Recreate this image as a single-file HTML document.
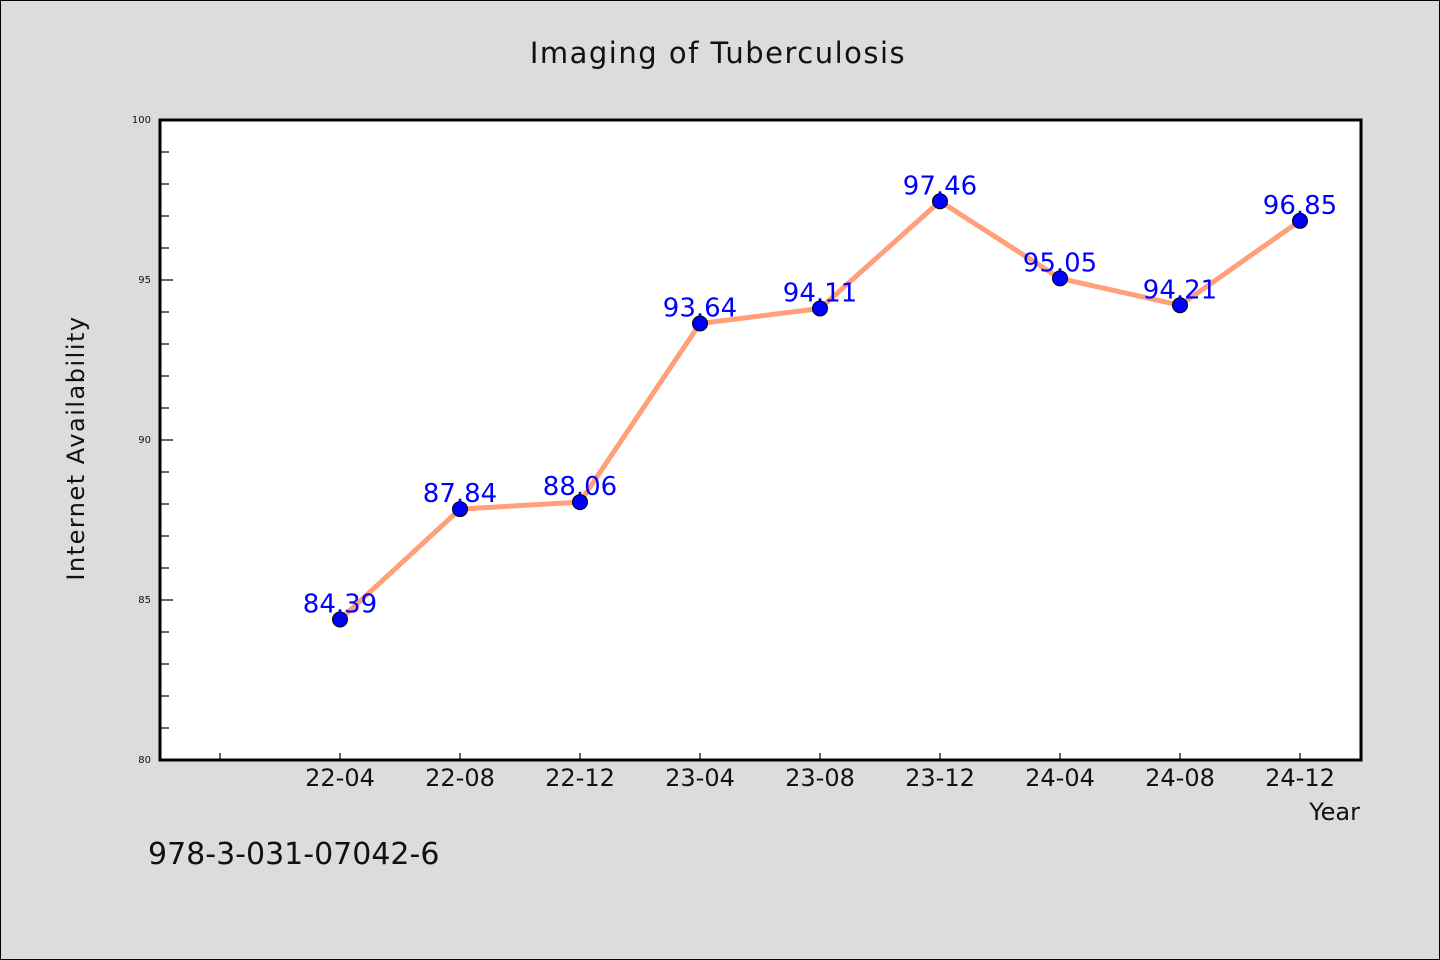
<!DOCTYPE html>
<html><head><meta charset="utf-8"><style>
html,body{margin:0;padding:0;background:#dcdcdc;}
svg{display:block;font-family:"WenQuanYi Zen Hei","DejaVu Sans",sans-serif;}
</style></head><body>
<svg id="chart" width="1440" height="960" xmlns="http://www.w3.org/2000/svg">
<rect x="0.5" y="0.5" width="1439" height="959" fill="#dcdcdc" stroke="#000" stroke-width="1"/>
<text x="718" y="63" font-size="29" text-anchor="middle" fill="#111" letter-spacing="1.5">Imaging of Tuberculosis</text>
<rect x="160" y="120" width="1201" height="640" fill="#fff"/>
<g id="axes"></g>
<g id="series"></g>
<rect x="160" y="120" width="1201" height="640" fill="none" stroke="#000" stroke-width="3"/>
<text transform="translate(84,448) rotate(-90)" font-size="24" text-anchor="middle" fill="#111" letter-spacing="1.5">Internet Availability</text>
<text x="1360" y="820" font-size="24" text-anchor="end" fill="#111">Year</text>
<text x="148" y="864" font-size="30" fill="#111">978-3-031-07042-6</text>
</svg>
<script>
const categories = ["22-04","22-08","22-12","23-04","23-08","23-12","24-04","24-08","24-12"];
const values = [84.39,87.84,88.06,93.64,94.11,97.46,95.05,94.21,96.85];
const valueLabels = ["84.39","87.84","88.06","93.64","94.11","97.46","95.05","94.21","96.85"];
const yTicks = [80,85,90,95,100];
const yMin = 80, yMax = 100;
const NS = "http://www.w3.org/2000/svg";
function xPos(i){ return 340 + i*120; }
function yPos(v){ return 760 - (v - yMin)/(yMax - yMin)*640; }
function mk(tag, attrs, parent){ const e=document.createElementNS(NS,tag); for(const k in attrs) e.setAttribute(k,attrs[k]); parent.appendChild(e); return e; }
const axes=document.getElementById('axes'), series=document.getElementById('series');
for(let v=yMin; v<=yMax; v++){
  const major = yTicks.includes(v);
  const t=mk('line',{x1:160,x2:major?173:169,y1:yPos(v),y2:yPos(v),stroke:'#000','stroke-width':1.2},axes);
  
  
}
yTicks.forEach(v=>{
  const t=mk('text',{x:151,y:yPos(v)+3,'font-size':10,'text-anchor':'end',fill:'#111'},axes);
  t.textContent=v;
  
  
});
const tk=mk('line',{x1:xPos(-1),x2:xPos(-1),y1:753,y2:760,stroke:'#000','stroke-width':1.2},axes);


categories.forEach((c,i)=>{
  const t=mk('line',{x1:xPos(i),x2:xPos(i),y1:753,y2:760,stroke:'#000','stroke-width':1.2},axes);
  
  
  const l=mk('text',{x:xPos(i),y:786,'font-size':24,'text-anchor':'middle',fill:'#111'},axes);
  l.textContent=c;
  
  
});
const line=mk('polyline',{points:values.map((v,i)=>xPos(i)+','+yPos(v)).join(' '),fill:'none',stroke:'#ffa07a','stroke-width':5,'stroke-linejoin':'round'},series);


values.forEach((v,i)=>{
  const lb=mk('text',{x:xPos(i),y:yPos(v)-7,'font-size':26,'text-anchor':'middle',fill:'#0000ff'},series);
  lb.textContent=valueLabels[i];
  
  
});
values.forEach((v,i)=>{
  const p=mk('circle',{cx:xPos(i),cy:yPos(v),r:7.5,fill:'#0000ff',stroke:'#000','stroke-width':1},series);
  
  
});
</script>
</body></html>
